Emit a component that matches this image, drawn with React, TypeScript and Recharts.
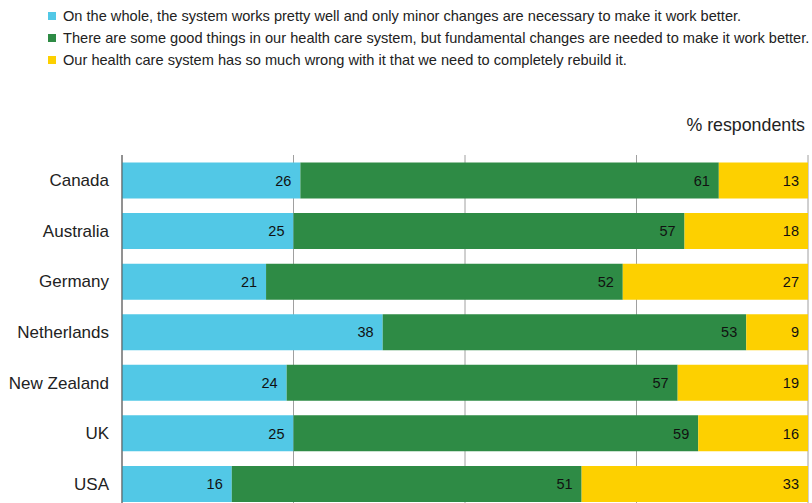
import { BarChart, Bar, XAxis, YAxis, CartesianGrid, LabelList } from 'recharts';

const countries = ['Canada', 'Australia', 'Germany', 'Netherlands', 'New Zealand', 'UK', 'USA'];
const minorChanges = [26, 25, 21, 38, 24, 25, 16];
const fundamentalChanges = [61, 57, 52, 53, 57, 59, 51];
const rebuild = [13, 18, 27, 9, 19, 16, 33];
const xTicks = [0, 25, 50, 75, 100];

const SERIES = [
  {
    key: 'minor',
    color: '#52c8e6',
    label: 'On the whole, the system works pretty well and only minor changes are necessary to make it work better.',
  },
  {
    key: 'fundamental',
    color: '#2e8b45',
    label: 'There are some good things in our health care system, but fundamental changes are needed to make it work better.',
  },
  {
    key: 'rebuild',
    color: '#fdd000',
    label: 'Our health care system has so much wrong with it that we need to completely rebuild it.',
  },
];

const FONT = '"Liberation Sans", Arial, Helvetica, sans-serif';

export default function App() {
  const data = countries.map((c, i) => ({
    country: c,
    minor: minorChanges[i],
    fundamental: fundamentalChanges[i],
    rebuild: rebuild[i],
  }));

  return (
    <div style={{ position: 'absolute', left: 0, top: 0, width: 812, height: 503, overflow: 'hidden', fontFamily: FONT, background: '#fff' }}>
      <div style={{ position: 'absolute', left: 48, top: 5 }}>
        {SERIES.map((s) => (
          <div key={s.key} style={{ display: 'flex', alignItems: 'center', height: 22, fontSize: 14.6, color: '#222' }}>
            <span style={{ width: 8, height: 8, background: s.color, marginRight: 7, flexShrink: 0 }} />
            <span style={{ whiteSpace: 'nowrap' }}>{s.label}</span>
          </div>
        ))}
      </div>
      <div style={{ position: 'absolute', right: 7, top: 115, fontSize: 17.8, color: '#222' }}>% respondents</div>
      <div style={{ position: 'absolute', left: 0, top: 0 }}>
        <BarChart
          width={812}
          height={509}
          data={data}
          layout="vertical"
          barCategoryGap={7.5}
          margin={{ top: 155, right: 4, bottom: 0, left: 0 }}
        >
          <CartesianGrid horizontal={false} stroke="#a0a0a0" />
          <XAxis type="number" domain={[0, 100]} ticks={xTicks} hide />
          <YAxis
            type="category"
            dataKey="country"
            width={122}
            axisLine={{ stroke: '#555' }}
            tickLine={false}
            tickMargin={7}
            tick={{ fontSize: 17, fill: '#222', fontFamily: FONT }}
          />
          {SERIES.map((s) => (
            <Bar key={s.key} dataKey={s.key} stackId="a" fill={s.color} isAnimationActive={false}>
              <LabelList
                dataKey={s.key}
                position="insideRight"
                offset={9}
                style={{ fontSize: 14.5, fill: '#111', fontFamily: FONT }}
              />
            </Bar>
          ))}
        </BarChart>
      </div>
    </div>
  );
}
